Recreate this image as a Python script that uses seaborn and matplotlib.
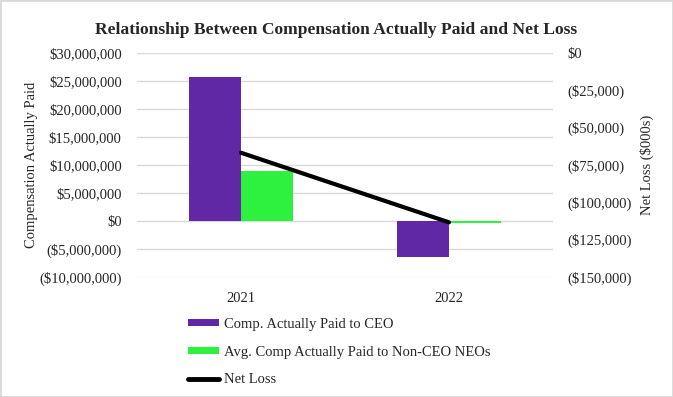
import matplotlib
matplotlib.use("Agg")
import matplotlib.pyplot as plt
import seaborn as sns
import pandas as pd
from matplotlib.patches import Patch, Rectangle
from matplotlib.lines import Line2D
from matplotlib.ticker import FuncFormatter

years = ["2021", "2022"]
ceo_cap = [25_660_000, -6_370_000]
neo_cap = [8_930_000, -300_000]
net_loss = [-66_800, -113_400]
series_names = ["Comp. Actually Paid to CEO", "Avg. Comp Actually Paid to Non-CEO NEOs"]
line_name = "Net Loss"

purple = "#6128A6"
green = "#2EF03E"

sns.set_theme(style="white")
plt.rcParams["font.family"] = ["Liberation Serif", "DejaVu Serif"]

df = pd.DataFrame({
    "year": years * 2,
    "value": ceo_cap + neo_cap,
    "series": [series_names[0]] * 2 + [series_names[1]] * 2,
})
df_line = pd.DataFrame({"year": years, "loss": net_loss})

fig = plt.figure(figsize=(6.73, 3.97), dpi=100)
ax = fig.add_axes([137 / 673, 1 - 277 / 397, 416 / 673, 224 / 397])

sns.barplot(data=df, x="year", y="value", hue="series", order=years,
            palette=[purple, green], width=0.5, ax=ax, legend=False,
            saturation=1, errorbar=None, linewidth=0, edgecolor="none")
ax.set_xlim(-0.5, 1.5)
ax.set_ylim(-10_000_000, 30_000_000)
ax.set_yticks(range(-10_000_000, 30_000_001, 5_000_000))

def money_fmt(v, _):
    v = int(round(v))
    if v < 0:
        return f"(${-v:,})"
    return f"${v:,}"

ax.yaxis.set_major_formatter(FuncFormatter(money_fmt))
ax.grid(axis="y", color="#d9d9d9", linewidth=1)
ax.set_axisbelow(True)
for s in ax.spines.values():
    s.set_visible(False)
ax.set_xlabel("")
ax.set_ylabel("Compensation Actually Paid", fontsize=10.5)
ax.yaxis.set_label_coords(-0.238, 0.5)
ax.tick_params(axis="y", labelsize=10.5, pad=11, length=0)
ax.tick_params(axis="x", labelsize=10.5, pad=11, length=0)

ax2 = ax.twinx()
sns.pointplot(data=df_line, x="year", y="loss", order=years, color="black",
              markers="", linestyles="-", linewidth=3, ax=ax2, errorbar=None)
ax2.set_xlim(-0.5, 1.5)
ax2.set_ylim(-150_000, 0)
ax2.set_yticks(range(-150_000, 1, 25_000))
ax2.yaxis.set_major_formatter(FuncFormatter(money_fmt))
for s in ax2.spines.values():
    s.set_visible(False)
ax2.grid(False)
ax2.set_xlabel("")
ax2.set_ylabel("Net Loss ($000s)", fontsize=10.5, labelpad=6)
ax2.tick_params(axis="y", labelsize=10.5, pad=10, length=0)

fig.suptitle("Relationship Between Compensation Actually Paid and Net Loss",
             x=336 / 673, y=1 - 30 / 397, va="center", fontsize=12.6,
             fontweight="bold")

handles = [Patch(facecolor=purple, edgecolor="none"),
           Patch(facecolor=green, edgecolor="none"),
           Line2D([0], [0], color="black", lw=3.5)]
fig.legend(handles, series_names + [line_name], loc="upper left",
           bbox_to_anchor=(188 / 673, 1 - 318 / 397), frameon=False,
           fontsize=10.5, handlelength=2.1, handleheight=0.4,
           handletextpad=0.35, labelspacing=1.0, borderpad=0,
           borderaxespad=0)

fig.patches.append(Rectangle((0, 0), 1, 1, transform=fig.transFigure,
                             fill=False, edgecolor="#d9d9d9", linewidth=2))

fig.savefig("out.png", dpi=100)
